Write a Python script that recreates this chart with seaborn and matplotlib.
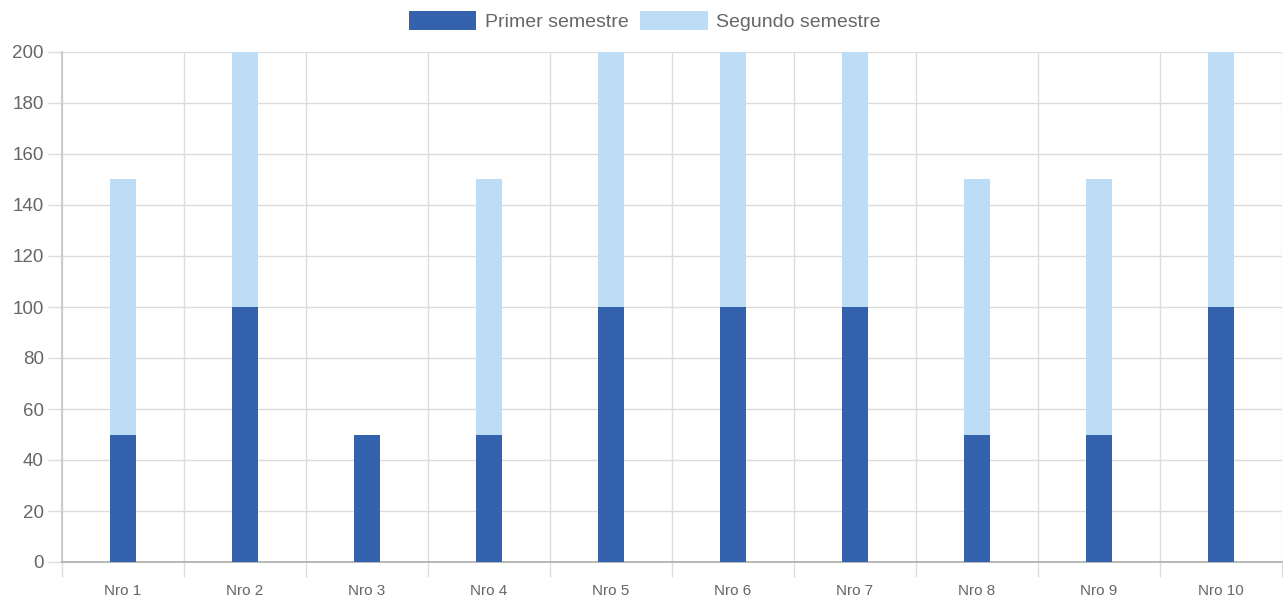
import matplotlib
matplotlib.use("Agg")
import matplotlib.pyplot as plt
import seaborn as sns
import pandas as pd
import numpy as np
from matplotlib.patches import Patch

categories = ["Nro 1", "Nro 2", "Nro 3", "Nro 4", "Nro 5", "Nro 6", "Nro 7", "Nro 8", "Nro 9", "Nro 10"]
primer = [50, 100, 50, 50, 100, 100, 100, 50, 50, 100]
segundo = [100, 100, 0, 100, 100, 100, 100, 100, 100, 100]
yticks = [0, 20, 40, 60, 80, 100, 120, 140, 160, 180, 200]

dark = "#3462ad"
light = "#bddcf5"

sns.set_theme(style="white")
plt.rcParams["font.family"] = ["Liberation Sans", "DejaVu Sans"]

df = pd.DataFrame({"cat": categories, "primer": primer, "segundo": segundo})
df["total"] = df["primer"] + df["segundo"]

fig = plt.figure(figsize=(12.83, 6.05), dpi=100)
W, H = 1283, 605
ax = fig.add_axes([62 / W, (H - 562) / H, 1220 / W, 510 / H])

sns.barplot(data=df, x="cat", y="total", color=light, width=0.22, ax=ax, zorder=3,
            saturation=1, edgecolor="none")
sns.barplot(data=df, x="cat", y="primer", color=dark, width=0.22, ax=ax, zorder=4,
            saturation=1, edgecolor="none")

ax.set_xlim(-0.5, len(categories) - 0.5)
ax.set_ylim(0, 200)
ax.set_yticks(yticks)
ax.set_yticklabels([str(v) for v in yticks], fontsize=13.5, color="#666666")
ax.set_xticks(range(len(categories)))
ax.set_xticklabels(categories, fontsize=11, color="#666666")
ax.set_xticks(np.arange(-0.5, len(categories), 1.0), minor=True)
ax.set_xlabel("")
ax.set_ylabel("")

ax.grid(False)
ax.yaxis.grid(True, color="#dcdcdc", linewidth=1, zorder=0)
ax.xaxis.grid(True, which="minor", color="#dcdcdc", linewidth=1, zorder=0)
ax.set_axisbelow(True)

ax.tick_params(axis="y", which="major", length=10, color="#dcdcdc", width=1, pad=3, left=True)
ax.tick_params(axis="x", which="major", length=0, pad=16)
ax.tick_params(axis="x", which="minor", length=11, color="#dcdcdc", width=1, bottom=True)

for s in ["top", "right"]:
    ax.spines[s].set_visible(False)
ax.spines["left"].set_color("#c8c8c8")
ax.spines["bottom"].set_color("#b0b0b0")

handles = [Patch(facecolor=dark, edgecolor="none", label="Primer semestre"),
           Patch(facecolor=light, edgecolor="none", label="Segundo semestre")]
fig.legend(handles=handles, loc="center", bbox_to_anchor=(645 / W, 1 - 21 / H), ncol=2,
           frameon=False, fontsize=14, handlelength=3.45, handleheight=1.13,
           handletextpad=0.45, columnspacing=0.6, labelcolor="#666666")

fig.savefig("out.png", dpi=100)
